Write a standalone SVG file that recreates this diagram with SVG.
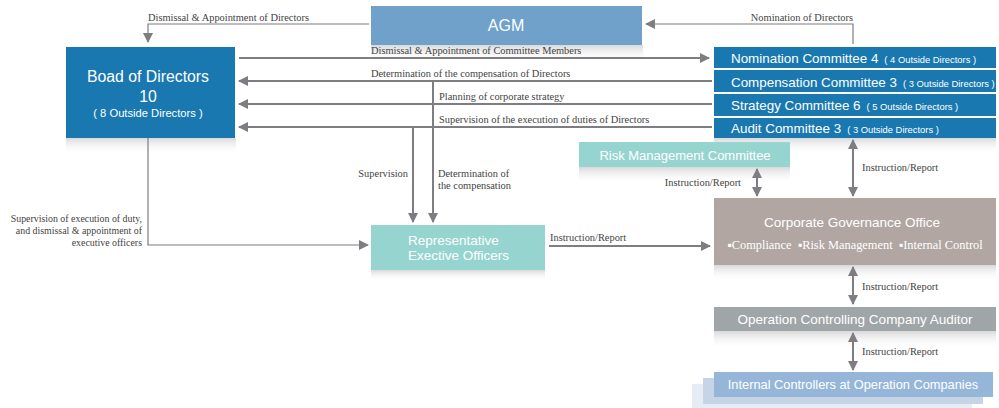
<svg xmlns="http://www.w3.org/2000/svg" width="999" height="408" viewBox="0 0 999 408">
  <defs>
    <linearGradient id="shade" x1="0" y1="0" x2="0" y2="1">
      <stop offset="0" stop-color="#d9d9d9"/>
      <stop offset="1" stop-color="#ffffff" stop-opacity="0"/>
    </linearGradient>
    <marker id="ah" viewBox="0 0 10 10" refX="9" refY="5" markerWidth="10" markerHeight="10" markerUnits="userSpaceOnUse" orient="auto-start-reverse">
      <path d="M0,0 L10,5 L0,10 Z" fill="#7d7d82"/>
    </marker>
    <style>
      .ln { stroke:#7d7d82; stroke-width:2; fill:none; }
      .thin { stroke:#7d7d82; stroke-width:1.2; fill:none; }
      .lbl { font-family:"Liberation Serif", serif; font-size:10.4px; fill:#444444; }
      .lbl.sm { font-size:9.9px; }
      .nt { font-family:"Liberation Sans", Arial, sans-serif; fill:#ffffff; }
      .shade { fill:url(#shade); }
    </style>
  </defs>

  <!-- soft shadows beneath the boxes -->
  <g id="shadows">
    <rect class="shade" x="371" y="45" width="272" height="17"/>
    <rect class="shade" x="66" y="138" width="170" height="16"/>
    <rect class="shade" x="714" y="138" width="282" height="16"/>
    <rect class="shade" x="579" y="167" width="211" height="17"/>
    <rect class="shade" x="371" y="270" width="174" height="11"/>
    <rect class="shade" x="714" y="265" width="282" height="16"/>
    <rect class="shade" x="714" y="331" width="282" height="18"/>
  </g>

  <g id="agm">
    <rect x="371" y="6" width="271" height="39" fill="#6fa1cb"/>
    <text class="nt" x="506" y="31" font-size="16" text-anchor="middle">AGM</text>
  </g>

  <g id="board">
    <rect x="66" y="47" width="169" height="91" fill="#1a78b0"/>
    <text class="nt" x="148" y="82" font-size="15.8" text-anchor="middle">Boad of Directors</text>
    <text class="nt" x="148" y="102" font-size="15.8" text-anchor="middle">10</text>
    <text class="nt" x="148" y="117" font-size="11.2" text-anchor="middle">( 8 Outside Directors )</text>
  </g>

  <g id="nomination">
    <rect x="714" y="47" width="282" height="21" fill="#1a78b0"/>
    <text class="nt" x="731" y="63" font-size="13.4">Nomination Committee 4<tspan font-size="9.4" dx="6">( 4 Outside Directors )</tspan></text>
  </g>
  <g id="compensation">
    <rect x="714" y="70" width="282" height="22" fill="#1a78b0"/>
    <text class="nt" x="731" y="87" font-size="13.4">Compensation Committee 3<tspan font-size="9.4" dx="6">( 3 Outside Directors )</tspan></text>
  </g>
  <g id="strategy">
    <rect x="714" y="94" width="282" height="22" fill="#1a78b0"/>
    <text class="nt" x="731" y="110" font-size="13.4">Strategy Committee 6<tspan font-size="9.4" dx="6">( 5 Outside Directors )</tspan></text>
  </g>
  <g id="audit">
    <rect x="714" y="118" width="282" height="20" fill="#1a78b0"/>
    <text class="nt" x="731" y="133" font-size="13.4">Audit Committee 3<tspan font-size="9.4" dx="6">( 3 Outside Directors )</tspan></text>
  </g>

  <g id="risk">
    <rect x="579" y="142" width="211" height="25" fill="#96d4d0"/>
    <text class="nt" x="685" y="160" font-size="13" text-anchor="middle">Risk Management Committee</text>
  </g>

  <g id="representative">
    <rect x="371" y="225" width="174" height="45" fill="#96d4d0"/>
    <text class="nt" x="408" y="245" font-size="13.5">Representative</text>
    <text class="nt" x="408" y="260" font-size="13.5">Exective Officers</text>
  </g>

  <g id="cgo">
    <rect x="714" y="198" width="282" height="67" fill="#b1a6a2"/>
    <text class="nt" x="852" y="227" font-size="13.5" text-anchor="middle">Corporate Governance Office</text>
    <text x="855" y="249" font-family="Liberation Serif, serif" font-size="12.4" fill="#ffffff" text-anchor="middle">▪Compliance&#160; ▪Risk Management&#160; ▪Internal Control</text>
  </g>

  <g id="auditor">
    <rect x="714" y="307" width="282" height="24" fill="#a0a5a8"/>
    <text class="nt" x="855" y="324" font-size="13.5" text-anchor="middle">Operation Controlling Company Auditor</text>
  </g>

  <g id="internal">
    <rect x="692" y="384" width="280" height="24" fill="#e6ecf4"/>
    <rect x="703" y="378" width="280" height="26" fill="#c6d4e5"/>
    <rect x="714" y="372" width="279" height="25" fill="#96b6d9"/>
    <text class="nt" x="853" y="389" font-size="12.8" text-anchor="middle">Internal Controllers at Operation Companies</text>
  </g>

  <g id="connectors">
    <!-- AGM to board -->
    <path class="thin" d="M369,24 H148 V42" marker-end="url(#ah)"/>
    <!-- nomination committee to AGM -->
    <path class="thin" d="M853,44 V24 H646" marker-end="url(#ah)"/>
    <!-- board <-> committees -->
    <path class="ln" d="M239,58 H709" marker-end="url(#ah)"/>
    <path class="ln" d="M712,81 H239" marker-end="url(#ah)"/>
    <path class="ln" d="M712,104 H239" marker-end="url(#ah)"/>
    <path class="ln" d="M712,127 H239" marker-end="url(#ah)"/>
    <!-- down to representative officers -->
    <path class="ln" d="M433,81 V222" marker-end="url(#ah)"/>
    <path class="ln" d="M413,127 V222" marker-end="url(#ah)"/>
    <path class="thin" d="M148,138 V245 H368" marker-end="url(#ah)"/>
    <path class="ln" d="M549,246 H710" marker-end="url(#ah)"/>
    <!-- instruction / report links -->
    <path class="ln" d="M757,169 V196" marker-start="url(#ah)" marker-end="url(#ah)"/>
    <path class="ln" d="M853,140 V196" marker-start="url(#ah)" marker-end="url(#ah)"/>
    <path class="ln" d="M853,267 V304" marker-start="url(#ah)" marker-end="url(#ah)"/>
    <path class="ln" d="M853,333 V370" marker-start="url(#ah)" marker-end="url(#ah)"/>

    <text class="lbl" x="148" y="21">Dismissal &amp; Appointment of Directors</text>
    <text class="lbl" x="853" y="21" text-anchor="end">Nomination of Directors</text>
    <text class="lbl" x="371" y="54">Dismissal &amp; Appointment of Committee Members</text>
    <text class="lbl" x="371" y="77">Determination of the compensation of Directors</text>
    <text class="lbl" x="439" y="100">Planning of corporate strategy</text>
    <text class="lbl" x="439" y="123">Supervision of the execution of duties of Directors</text>
    <text class="lbl" x="408" y="177" text-anchor="end">Supervision</text>
    <text class="lbl" x="438" y="177">Determination of</text>
    <text class="lbl" x="438" y="189">the compensation</text>
    <text class="lbl sm" x="142" y="222" text-anchor="end">Supervision of execution of duty,</text>
    <text class="lbl sm" x="142" y="234" text-anchor="end">and dismissal &amp; appointment of</text>
    <text class="lbl sm" x="142" y="246" text-anchor="end">executive officers</text>
    <text class="lbl" x="550" y="241">Instruction/Report</text>
    <text class="lbl" x="741" y="186" text-anchor="end">Instruction/Report</text>
    <text class="lbl" x="862" y="171">Instruction/Report</text>
    <text class="lbl" x="862" y="290">Instruction/Report</text>
    <text class="lbl" x="862" y="355">Instruction/Report</text>
  </g>
</svg>
